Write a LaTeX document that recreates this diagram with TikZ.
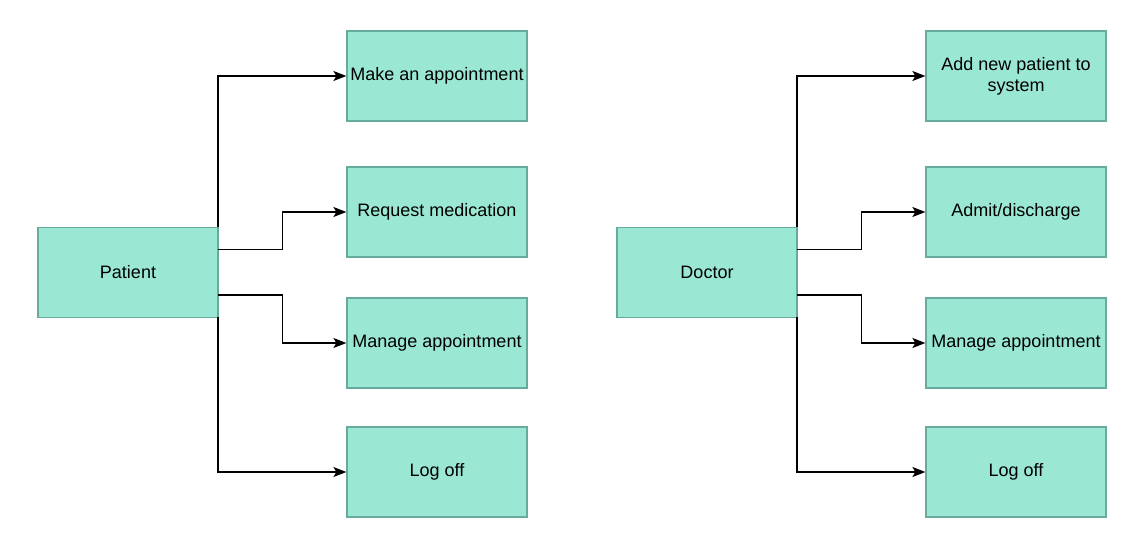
\documentclass[tikz,border=0pt]{standalone}
\usepackage{fontspec}
\setmainfont{Liberation Sans}
\usetikzlibrary{arrows.meta}
\definecolor{boxfill}{HTML}{9AE8D3}
\definecolor{boxline}{HTML}{67AB9F}
\tikzset{
  bx/.style={draw=boxline, fill=boxfill, line width=1.2pt, minimum width=180pt, minimum height=90pt, inner sep=0pt, align=center, font=\fontsize{18pt}{21pt}\selectfont},
  conn/.style={draw=black, line width=1.5pt, -{Stealth[length=13pt,width=10pt,inset=3pt]}}
}
\begin{document}
\begin{tikzpicture}[x=1pt,y=-1pt]
\useasboundingbox (0,0) rectangle (1141,545);
% Patient side
\node[bx] (pat) at (128,272.5) {Patient};
\node[bx] (p1) at (437,76) {Make an appointment};
\node[bx] (p2) at (437,212) {Request medication};
\node[bx] (p3) at (437,343) {Manage appointment};
\node[bx] (p4) at (437,472) {Log off};
\coordinate (pa) at (218,227.5);
\coordinate (pb) at (218,249.5);
\coordinate (pc) at (218,295);
\coordinate (pd) at (218,317.5);
\draw[conn] (pa) |- (p1.west);
\draw[conn] (pb) -| (282.5,212) -- (p2.west);
\draw[conn] (pc) -| (282.5,343) -- (p3.west);
\draw[conn] (pd) |- (p4.west);
% Doctor side
\node[bx] (doc) at (707,272.5) {Doctor};
\node[bx] (d1) at (1016,76) {Add new patient to\\system};
\node[bx] (d2) at (1016,212) {Admit/discharge};
\node[bx] (d3) at (1016,343) {Manage appointment};
\node[bx] (d4) at (1016,472) {Log off};
\coordinate (da) at (797,227.5);
\coordinate (db) at (797,249.5);
\coordinate (dc) at (797,295);
\coordinate (dd) at (797,317.5);
\draw[conn] (da) |- (d1.west);
\draw[conn] (db) -| (861.5,212) -- (d2.west);
\draw[conn] (dc) -| (861.5,343) -- (d3.west);
\draw[conn] (dd) |- (d4.west);
\end{tikzpicture}
\end{document}
